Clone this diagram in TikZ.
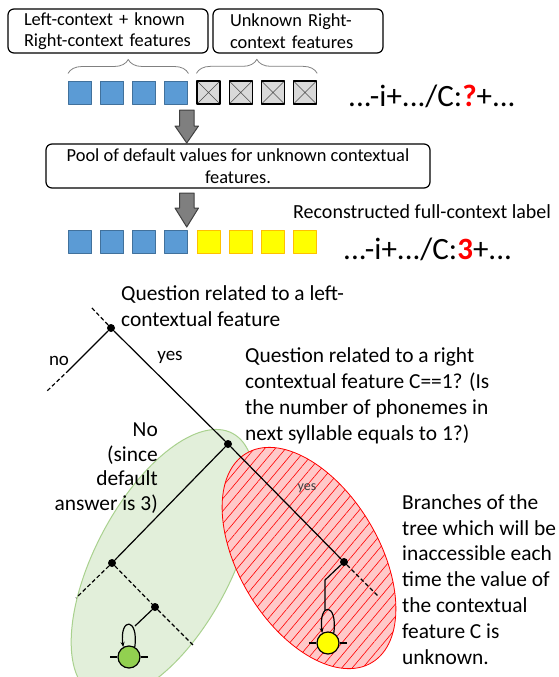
\documentclass[tikz,border=0pt]{standalone}
\usepackage{fontspec}
\setmainfont{Carlito}
\usetikzlibrary{decorations.pathreplacing, patterns.meta, arrows.meta}

\definecolor{knownblue}{HTML}{5B9BD5}
\definecolor{knownedge}{HTML}{41719C}
\definecolor{unknowngray}{HTML}{D9D9D9}
\definecolor{defyellow}{HTML}{FFFF00}
\definecolor{defedge}{HTML}{FFC000}
\definecolor{arrowgray}{HTML}{7F7F7F}
\definecolor{zonegreen}{HTML}{E2EFDA}
\definecolor{zonegreenedge}{HTML}{A9D18E}
\definecolor{zonered}{HTML}{FFC9C9}
\definecolor{stategreen}{HTML}{92D050}

\begin{document}
\begin{tikzpicture}[x=1pt,y=-1pt,line join=round,
	feat/.style={draw,minimum size=23pt,inner sep=0pt,line width=1pt},
	known/.style={feat,fill=knownblue,draw=knownedge},
	unknown/.style={feat,fill=unknowngray,draw=black,line width=1.3pt,
		path picture={\draw[line width=0.5pt,black!70]
			(path picture bounding box.north west) -- (path picture bounding box.south east)
			(path picture bounding box.north east) -- (path picture bounding box.south west);}},
	filled/.style={feat,fill=defyellow,draw=defedge},
	infobox/.style={draw,rounded corners=6pt,line width=1.2pt,inner sep=0pt,minimum height=44pt,font=\fontsize{18.4}{21.5}\selectfont},
	brace/.style={decorate,decoration={brace,amplitude=14pt},draw=gray,line width=0.8pt},
	blockarrow/.style={fill=arrowgray,draw=black!75,line width=1pt},
	qnode/.style={circle,fill=black,inner sep=0pt,minimum size=8pt},
	state/.style={circle,draw=black,line width=1.2pt,minimum size=22pt,inner sep=0pt},
	branch/.style={line width=1.2pt},
	cutbranch/.style={branch,dash pattern=on 4pt off 2.5pt},
	para/.style={font=\fontsize{21.4}{25.8}\selectfont,align=left,inner sep=0pt}]
\useasboundingbox (0,0) rectangle (558,677);

% context boxes
\node[infobox,minimum width=200pt,text width=168pt,align=left] (leftbox) at (108,31) {Left-context + known\\Right-context features};
\node[infobox,minimum width=170pt,text width=136pt,align=left] (rightbox) at (298,31) {Unknown Right-\\context features};

% feature vectors
\foreach \i in {1,...,4} {
	\node[known] (k\i) at ({80+32.15*(\i-1)},92.5) {};
	\node[unknown] (u\i) at ({80+32.15*(\i+3)},92.5) {};
	\node[known] (r\i) at ({80+32.15*(\i-1)},242) {};
	\node[filled] (d\i) at ({80+32.15*(\i+3)},242) {};
}
\draw[brace] ([yshift=7pt]k1.north west) -- ([yshift=7pt]k4.north east);
\draw[brace] ([yshift=7pt]u1.north west) -- ([yshift=7pt]u4.north east);

\node[anchor=west,inner sep=0pt,font=\fontsize{31}{33}\selectfont] (label1) at (348,96) {...-i+.../C:{\color{red}\textbf{?}}+...};
\node[anchor=west,inner sep=0pt,font=\fontsize{31}{33}\selectfont] (label2) at (343,249) {...-i+.../C:{\color{red}\textbf{3}}+...};
\node[anchor=west,inner sep=0pt,font=\fontsize{20}{24}\selectfont] (recon) at (293,212) {Reconstructed full-context label};

% pool and arrows
\node[infobox,minimum width=384pt,align=center] (pool) at (238,166) {Pool of default values for unknown contextual\\features.};
\filldraw[blockarrow] (179.5,110) -- (194,110) -- (194,126) -- (198.5,126) -- (186.75,143) -- (175,126) -- (179.5,126) -- cycle;
\filldraw[blockarrow] (179.5,193) -- (194,193) -- (194,208) -- (198.5,208) -- (186.75,227) -- (175,208) -- (179.5,208) -- cycle;

% zones
\filldraw[fill=zonegreen,draw=zonegreenedge,line width=1pt,rotate around={62:(163,564)}] (163,564) ellipse [x radius=148pt,y radius=68pt];
\fill[zonered,rotate around={-59:(309,558)}] (309,558) ellipse [x radius=122pt,y radius=70pt];
\begin{scope}
	\clip[rotate around={-59:(309,558)}] (309,558) ellipse [x radius=122pt,y radius=70pt];
	\fill[pattern={Lines[angle=50,distance=8pt,line width=0.6pt]},pattern color=red] (180,430) rectangle (420,690);
\end{scope}
\draw[red,line width=0.8pt,rotate around={-59:(309,558)}] (309,558) ellipse [x radius=122pt,y radius=70pt];

% tree
\node[qnode] (q1) at (111,328) {};
\node[qnode] (q2) at (228,444) {};
\node[qnode] (q3) at (344,562) {};
\node[qnode] (q4) at (112,563) {};
\node[qnode] (q5) at (155,607) {};
\coordinate (q1up) at (91,307);
\coordinate (nomid) at (69,370);
\coordinate (noend) at (46,392);
\coordinate (q3end) at (379,597);
\coordinate (q4end) at (76,598);
\coordinate (q5end) at (193,645);
\coordinate (gtop) at (135,626);
\coordinate (ybend) at (325,580);
\coordinate (ytop) at (325,610);
\draw[cutbranch] (q1) -- (q1up);
\draw[branch] (q1) -- (nomid);
\draw[cutbranch] (nomid) -- (noend);
\draw[branch] (q1) -- (q2);
\draw[branch] (q2) -- (q3);
\draw[cutbranch] (q3) -- (q3end);
\draw[branch] (q2) -- (q4);
\draw[cutbranch] (q4) -- (q4end);
\draw[cutbranch] (q4) -- (q5);
\draw[cutbranch] (q5) -- (q5end);
\draw[branch] (q5) -- (gtop);
\draw[branch] (q3) -- (ybend) -- (ytop);

% states
\node[state,fill=stategreen] (gs) at (129,657) {};
\node[state,fill=defyellow] (ys) at (328,643) {};
\draw[branch] (gs.west) -- +(-7,0) (gs.east) -- +(7,0);
\draw[branch] (ys.west) -- +(-7,0) (ys.east) -- +(7,0);
\draw[branch,-{Stealth[length=5pt,width=4pt]}] (gs.60) .. controls +(4,-30) and +(-4,-30) .. (gs.120);
\draw[branch,-{Stealth[length=5pt,width=4pt]}] (ys.60) .. controls +(4,-31) and +(-4,-31) .. (ys.120);

% labels
\node[font=\fontsize{19}{22}\selectfont,inner sep=0pt] (nolab) at (59,361) {no};
\node[font=\fontsize{19}{22}\selectfont,inner sep=0pt] (yeslab) at (170,357) {yes};
\node[font=\fontsize{14}{16}\selectfont,inner sep=0pt,text=black!75] (yes2lab) at (307,488) {yes};
\node[para,anchor=base west] (lefttext) at (121,326) {Question related to a left-\\contextual feature};
\node[para,anchor=base west] (righttext) at (245,440) {Question related to a right\\contextual feature C==1? (Is\\the number of phonemes in\\next syllable equals to 1?)};
\node[para,anchor=base west] (branchtext) at (402,664) {Branches of the\\tree which will be\\inaccessible each\\time the value of\\the contextual\\feature C is\\unknown.};
\node[para,align=right,anchor=base east,font=\fontsize{21.4}{24.5}\selectfont] (notext) at (158,510) {No\\(since\\default\\answer is 3)};
\end{tikzpicture}
\end{document}
